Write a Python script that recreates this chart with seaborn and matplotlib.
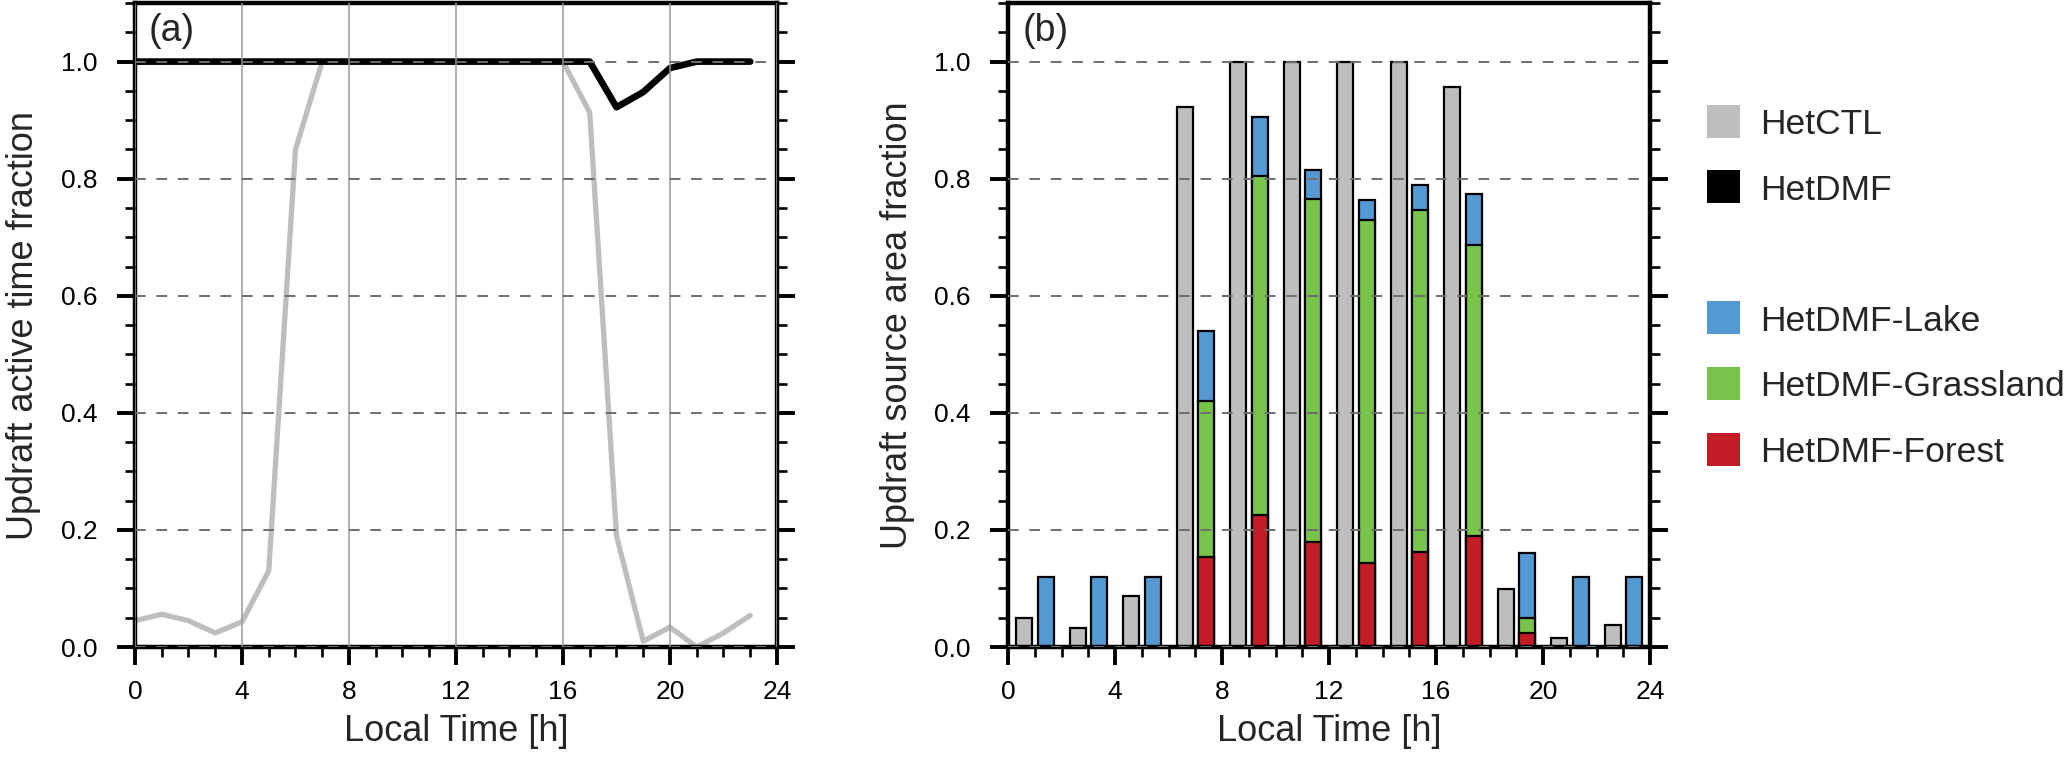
import matplotlib
matplotlib.use("Agg")
import matplotlib.pyplot as plt
from matplotlib.patches import Rectangle
from matplotlib.ticker import MultipleLocator, FormatStrFormatter
import seaborn as sns
import pandas as pd
import numpy as np

# Panel (a): hourly updraft active time fraction
hours = list(range(24))
ctl_active = [0.045, 0.056, 0.045, 0.024, 0.043, 0.13, 0.85, 1.0, 1.0, 1.0, 1.0, 1.0,
              1.0, 1.0, 1.0, 1.0, 1.0, 0.913, 0.19, 0.01, 0.034, 0.0, 0.024, 0.054]
dmf_active = [1.0, 1.0, 1.0, 1.0, 1.0, 1.0, 1.0, 1.0, 1.0, 1.0, 1.0, 1.0,
              1.0, 1.0, 1.0, 1.0, 1.0, 1.0, 0.922, 0.948, 0.989, 1.0, 1.0, 1.0]

# Panel (b): 2-hourly updraft source area fraction
bins = [1, 3, 5, 7, 9, 11, 13, 15, 17, 19, 21, 23]
ctl_area = [0.05, 0.033, 0.087, 0.923, 1.0, 1.0, 1.0, 1.0, 0.956, 0.099, 0.016, 0.038]
forest = [0.0, 0.0, 0.0, 0.153, 0.225, 0.18, 0.144, 0.162, 0.19, 0.024, 0.0, 0.0]
grassland = [0.0, 0.0, 0.0, 0.267, 0.58, 0.585, 0.586, 0.585, 0.496, 0.026, 0.0, 0.0]
lake = [0.12, 0.12, 0.12, 0.12, 0.10, 0.05, 0.033, 0.043, 0.087, 0.11, 0.12, 0.12]

legend_labels = ["HetCTL", "HetDMF", "HetDMF-Lake", "HetDMF-Grassland", "HetDMF-Forest"]

GRAY = "#BEBEBE"
BLUE = "#5599D3"
GREEN = "#78C44A"
RED = "#C21D26"
legend_colors = [GRAY, "black", BLUE, GREEN, RED]
legend_rows = [0, 1, 3, 4, 5]

sns.set_style("ticks")
plt.rcParams["font.family"] = ["Liberation Sans", "DejaVu Sans"]

fig = plt.figure(figsize=(20.67, 7.64), dpi=100)
ax_a = fig.add_axes([0.0653, 0.1531, 0.3106, 0.8429])
ax_b = fig.add_axes([0.4877, 0.1531, 0.3106, 0.8429])

# lines
df_line = pd.DataFrame({"hour": hours, "HetCTL": ctl_active, "HetDMF": dmf_active})
sns.lineplot(data=df_line, x="hour", y="HetCTL", color=GRAY, lw=3.8, ax=ax_a)
sns.lineplot(data=df_line, x="hour", y="HetDMF", color="black", lw=4.8, ax=ax_a)

# bars: gray control bar left of bin centre, stacked DMF bar right of it
df_bar = pd.DataFrame({
    "ctl_x": np.array(bins) - 0.4,
    "dmf_x": np.array(bins) + 0.4,
    "ctl": ctl_area,
    "lake_top": np.array(lake) + np.array(grassland) + np.array(forest),
    "grass_top": np.array(grassland) + np.array(forest),
    "forest": forest,
})
bar_kw = dict(native_scale=True, width=0.3, saturation=1, edgecolor="black",
              linewidth=1.6, errorbar=None, orient="x", ax=ax_b)
sns.barplot(data=df_bar, x="ctl_x", y="ctl", color=GRAY, **bar_kw)
sns.barplot(data=df_bar, x="dmf_x", y="lake_top", color=BLUE, **bar_kw)
sns.barplot(data=df_bar, x="dmf_x", y="grass_top", color=GREEN, **bar_kw)
sns.barplot(data=df_bar, x="dmf_x", y="forest", color=RED, **bar_kw)


def style_axes(ax, ylabel, tag):
    ax.set_xlim(0, 24)
    ax.set_ylim(0, 1.1)
    ax.xaxis.set_major_locator(MultipleLocator(4))
    ax.xaxis.set_minor_locator(MultipleLocator(1))
    ax.yaxis.set_major_locator(MultipleLocator(0.2))
    ax.yaxis.set_minor_locator(MultipleLocator(0.05))
    ax.yaxis.set_major_formatter(FormatStrFormatter("%.1f"))
    ax.tick_params(which="both", direction="out", left=True, right=True,
                   bottom=True, top=False, labelright=False, colors="black")
    ax.tick_params(which="major", length=13, width=2.8, labelsize=19)
    ax.tick_params(which="minor", length=7, width=1.9)
    ax.tick_params(axis="x", which="major", pad=11)
    ax.tick_params(axis="y", which="major", pad=14)
    for sp in ax.spines.values():
        sp.set_visible(True)
        sp.set_linewidth(3.2)
        sp.set_color("black")
    ax.set_axisbelow(False)
    ax.yaxis.grid(True, which="major", color="#6E6E6E", lw=1.4, ls=(0, (5.5, 5.5)))
    ax.set_xlabel("Local Time [h]", fontsize=26, labelpad=7)
    ax.set_ylabel(ylabel, fontsize=26, labelpad=14)
    ax.text(0.022, 0.985, tag, transform=ax.transAxes, fontsize=27,
            va="top", ha="left")


style_axes(ax_a, "Updraft active time fraction", "(a)")
ax_a.xaxis.grid(True, which="major", color="#9A9A9A", lw=1.1, ls="-")
style_axes(ax_b, "Updraft source area fraction", "(b)")

# legend on the right
sq_w, sq_h = 33 / 2067, 33 / 764
row_top, row_step = 1 - 121 / 764, 65.6 / 764
for lab, col, row in zip(legend_labels, legend_colors, legend_rows):
    yc = row_top - row * row_step
    fig.patches.append(Rectangle((0.8258, yc - sq_h / 2), sq_w, sq_h, facecolor=col,
                                 edgecolor="none", transform=fig.transFigure, figure=fig))
    fig.text(0.8515, yc, lab, fontsize=25.5, va="center_baseline", ha="left")

fig.savefig("out.png", dpi=100)
